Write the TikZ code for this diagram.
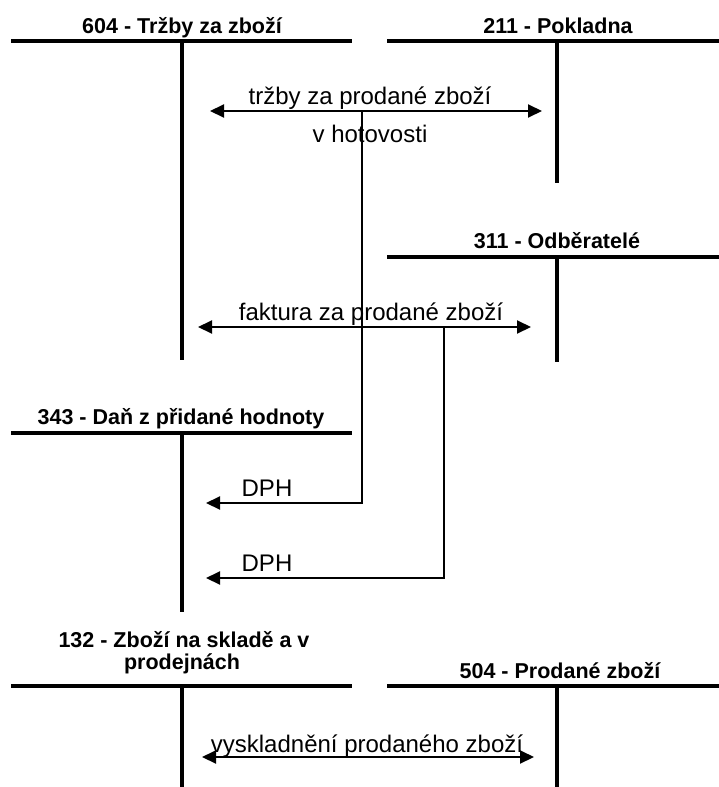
\documentclass[tikz,border=0pt]{standalone}
\usepackage{fontspec}
\setmainfont{Liberation Sans}
\usetikzlibrary{arrows.meta}
\begin{document}
\begin{tikzpicture}[x=1pt,y=-1pt,
  tline/.style={line width=3.5pt},
  conn/.style={line width=2pt},
  tip/.style={-{Triangle[length=14pt,width=13pt]}},
  dbl/.style={{Triangle[length=14pt,width=13pt]}-{Triangle[length=14pt,width=13pt]}},
  title/.style={font=\fontsize{21.5}{24}\selectfont\bfseries, anchor=base, inner sep=0pt},
  lbl/.style={font=\fontsize{24}{28}\selectfont, anchor=base, inner sep=0pt}]
\useasboundingbox (0,0) rectangle (719,787);

% T-account 604
\node[title] (t604) at (182,33) {604 - Tržby za zboží};
\coordinate (h604a) at (11,41); \coordinate (h604b) at (352,41);
\coordinate (v604a) at (182,41); \coordinate (v604b) at (182,360);
\draw[tline] (h604a) -- (h604b);
\draw[tline] (v604a) -- (v604b);

% T-account 211
\node[title] (t211) at (558,33) {211 - Pokladna};
\coordinate (h211a) at (387,41); \coordinate (h211b) at (719,41);
\coordinate (v211a) at (557,41); \coordinate (v211b) at (557,183);
\draw[tline] (h211a) -- (h211b);
\draw[tline] (v211a) -- (v211b);

% T-account 311
\node[title] (t311) at (557,248) {311 - Odběratelé};
\coordinate (h311a) at (387,257); \coordinate (h311b) at (719,257);
\coordinate (v311a) at (557,257); \coordinate (v311b) at (557,362);
\draw[tline] (h311a) -- (h311b);
\draw[tline] (v311a) -- (v311b);

% T-account 343
\node[title] (t343) at (181,424) {343 - Daň z přidané hodnoty};
\coordinate (h343a) at (11,433); \coordinate (h343b) at (352,433);
\coordinate (v343a) at (182,433); \coordinate (v343b) at (182,612);
\draw[tline] (h343a) -- (h343b);
\draw[tline] (v343a) -- (v343b);

% T-account 132
\node[title] (t132a) at (184,647) {132 - Zboží na skladě a v};
\node[title] (t132b) at (182,669) {prodejnách};
\coordinate (h132a) at (11,686); \coordinate (h132b) at (352,686);
\coordinate (v132a) at (182,686); \coordinate (v132b) at (182,787);
\draw[tline] (h132a) -- (h132b);
\draw[tline] (v132a) -- (v132b);

% T-account 504
\node[title] (t504) at (560,678) {504 - Prodané zboží};
\coordinate (h504a) at (387,686); \coordinate (h504b) at (719,686);
\coordinate (v504a) at (557,686); \coordinate (v504b) at (557,787);
\draw[tline] (h504a) -- (h504b);
\draw[tline] (v504a) -- (v504b);

% Connector 1: cash sales
\coordinate (a1L) at (210,111); \coordinate (a1R) at (542,111);
\draw[conn,dbl] (a1L) -- (a1R);
\node[lbl] (l1) at (370,104) {tržby za prodané zboží};
\node[lbl] (l1b) at (370,142) {v hotovosti};
\coordinate (j1) at (362,111); \coordinate (c1) at (362,503); \coordinate (d1) at (206,503);
\draw[conn,tip] (j1) -- (c1) -- (d1);
\node[lbl] (dph1) at (267,496) {DPH};

% Connector 2: invoice
\coordinate (a2L) at (198,327); \coordinate (a2R) at (531,327);
\draw[conn,dbl] (a2L) -- (a2R);
\node[lbl] (l2) at (371,320) {faktura za prodané zboží};
\coordinate (j2) at (444,327); \coordinate (c2) at (444,578); \coordinate (d2) at (206,578);
\draw[conn,tip] (j2) -- (c2) -- (d2);
\node[lbl] (dph2) at (267,571) {DPH};

% Connector 3: dispatch
\coordinate (a3L) at (202,757); \coordinate (a3R) at (534,757);
\draw[conn,dbl] (a3L) -- (a3R);
\node[lbl] (l3) at (367,752) {vyskladnění prodaného zboží};
\end{tikzpicture}
\end{document}
